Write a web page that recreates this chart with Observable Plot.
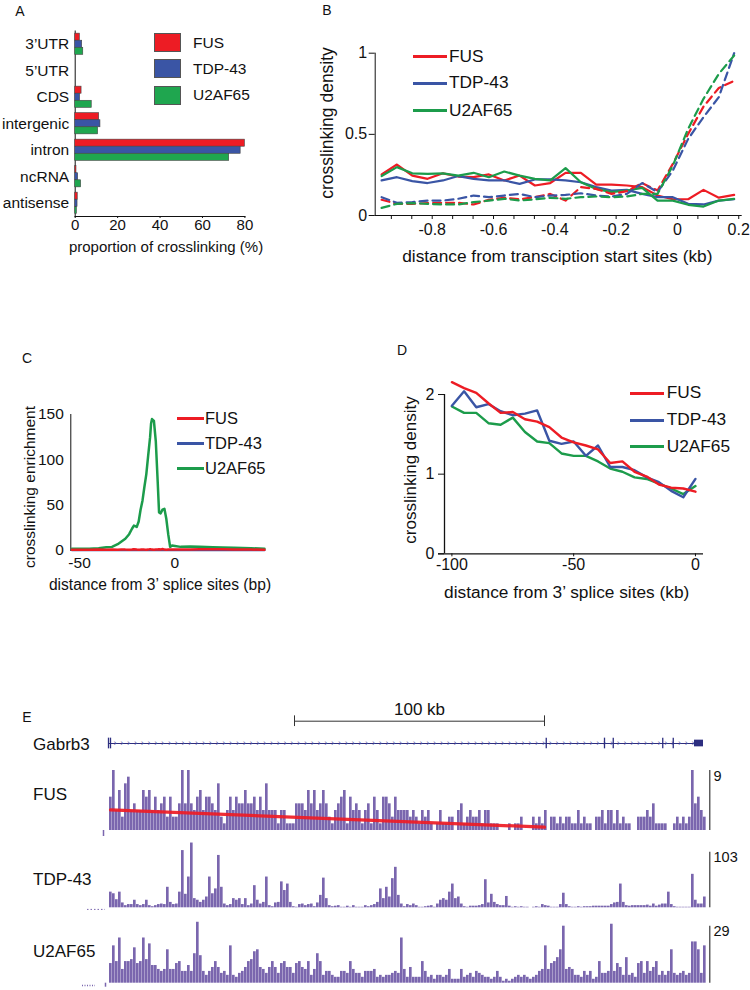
<!DOCTYPE html>
<html><head><meta charset="utf-8">
<script src="https://cdn.jsdelivr.net/npm/d3@7"></script>
<script src="https://cdn.jsdelivr.net/npm/@observablehq/plot@0.6"></script>
<style>
body{margin:0;background:#fff;}
#fig{position:relative;width:750px;height:990px;overflow:hidden;background:#fff;}
</style></head><body><div id="fig"></div>
<script>
// ================= DATA =================
const seriesNames = ["FUS", "TDP-43", "U2AF65"];
const seriesColors = ["#ed1c24", "#3a55a5", "#1c9c4b"];

// Panel A
const regionCats = ["3’UTR", "5’UTR", "CDS", "intergenic", "intron", "ncRNA", "antisense"];
const fusRegion  = [2.2, 0, 3.0, 11.3, 80.0, 0.6, 1.2];
const tdpRegion  = [3.3, 0, 2.3, 11.9, 78.0, 1.4, 1.1];
const u2afRegion = [3.8, 0, 7.8, 10.8, 72.6, 2.8, 0.8];
const regionTicks = [0, 20, 40, 60, 80];

// Panel B (solid / dashed profiles)
const tssDist = [-0.965,-0.915,-0.865,-0.815,-0.765,-0.715,-0.665,-0.615,-0.565,-0.515,-0.465,-0.415,-0.365,-0.315,-0.265,-0.215,-0.165,-0.115,-0.065,-0.015,0.035,0.085,0.135,0.185];
const fusTssSolid  = [0.253,0.314,0.246,0.226,0.26,0.24,0.236,0.253,0.216,0.246,0.185,0.2,0.263,0.263,0.19,0.19,0.185,0.175,0.123,0.1,0.1,0.158,0.11,0.127];
const tdpTssSolid  = [0.216,0.236,0.212,0.2,0.216,0.243,0.226,0.216,0.216,0.195,0.222,0.222,0.216,0.205,0.175,0.154,0.158,0.133,0.113,0.113,0.072,0.068,0.092,0.1];
const u2afTssSolid = [0.243,0.298,0.26,0.257,0.26,0.246,0.263,0.236,0.271,0.246,0.226,0.216,0.292,0.205,0.164,0.144,0.154,0.17,0.092,0.092,0.066,0.055,0.092,0.103];
const fusTssDash   = [0.097,0.072,0.072,0.076,0.078,0.078,0.068,0.097,0.109,0.1,0.113,0.133,0.092,0.175,0.164,0.133,0.15,0.2,0.154,0.318,0.503,0.671,0.786,0.83];
const tdpTssDash   = [0.113,0.078,0.082,0.092,0.092,0.103,0.123,0.113,0.123,0.133,0.113,0.123,0.127,0.137,0.123,0.117,0.133,0.2,0.144,0.277,0.472,0.606,0.729,1.0];
const u2afTssDash  = [0.047,0.072,0.076,0.072,0.068,0.068,0.082,0.092,0.103,0.092,0.1,0.109,0.103,0.113,0.117,0.113,0.117,0.133,0.133,0.308,0.534,0.719,0.873,0.986];
const tssTickLabels = [-0.8, -0.6, -0.4, -0.2, 0, 0.2];

// Panel C
const spliceBp = [-54,-50,-45,-40,-36,-33,-30,-28,-26,-24,-22.5,-21.5,-20,-19,-18,-17,-16,-15,-14,-13,-12.5,-12,-11,-10,-9,-8.3,-7.5,-6.5,-5.5,-4.5,-3.5,-2.5,-1.5,0,3,8,13,20,25,31,40,47];
const u2afEnrich = [1.9,2,2,2.5,3.5,4,7,10,13,18,24,27.5,26,32,45,55,70,84,105,125,140,145,143,120,75,42,41,45,46,35,18,4,5.5,5,4,4.3,4,3.5,3.2,3,2.5,2];
const fusEnrich  = [0.8,0.9,0.8,1,0.9,1,0.8,1.2,1,0.9,1,1.4,1,0.9,1,1.2,1,0.9,1,1.5,1,1.1,0.9,1,1,1.3,1,1.6,1,0.9,1,1,1.2,1,1.1,1.2,1.3,1.4,1.3,1.2,1,0.9];
const tdpEnrich  = [0.3,0.3,0.3,0.3,0.3,0.3,0.3,0.3,0.3,0.3,0.3,0.3,0.3,0.3,0.3,0.3,0.3,0.3,0.3,0.3,0.3,0.3,0.3,0.3,0.3,0.3,0.3,0.3,0.3,0.3,0.3,0.3,0.3,0.3,0.3,0.3,0.3,0.3,0.3,0.3,0.3,0.3];
const enrichTicks = [0, 50, 100, 150];
const bpTicks = [-50, 0];

// Panel D
const spliceKb = [-100,-95,-90,-85,-80,-75,-70,-65,-60,-55,-50,-45,-40,-35,-30,-25,-20,-15,-10,-5,0];
const fusDensity  = [2.155,2.08,2.02,1.89,1.77,1.78,1.69,1.66,1.59,1.46,1.40,1.36,1.31,1.14,1.16,1.03,0.97,0.87,0.83,0.82,0.78];
const tdpDensity  = [1.86,2.04,1.84,1.88,1.79,1.74,1.76,1.80,1.42,1.38,1.41,1.23,1.36,1.09,1.09,1.05,0.96,0.90,0.79,0.71,0.94];
const u2afDensity = [1.85,1.77,1.77,1.64,1.62,1.71,1.53,1.41,1.39,1.26,1.23,1.23,1.16,1.07,1.03,0.96,0.94,0.88,0.82,0.75,0.85];
const densityTicks = [0, 1, 2];
const kbTicks = [-100, -50, 0];

// Panel E (Gabrb3 locus, kb from gene start; 1.2 kb bins)
const geneName = "Gabrb3";
const geneLength = 238;
const geneExons = [0, 0.8, 175.1, 198.4, 201.9, 221.7, 225.9];
const lastExon = [{start: 234.4, end: 238}];
const scaleBar = [{start: 74.4, end: 174.4, label: "100 kb"}];
const trackMax = [9, 103, 29];
const fusFit = [{kb: 0.8, v: 3.1}, {kb: 174.4, v: 0.5}];
const fusTrack = [5,9,3,6,2,7,8,3,4,3, 3,6,5,6,3,5,3,4,5,2, 5,2,2,4,9,4,9,4,3,5, 6,3,5,5,4,3,7,2,1,3, 5,3,5,4,4,6,4,4,5,3, 5,3,7,3,3,3,1,3,3,1, 1,1,4,4,4,3,6,4,6,3, 4,6,4,2,1,3,4,5,6,1, 5,3,4,3,1,3,4,1,5,3, 1,5,5,4,2,5,3,3,3,3, 2,3,2,1,3,2,3,1,0,1, 3,1,1,2,2,0,3,4,1,2, 3,2,2,3,1,3,3,1,1,1, 0,0,0,1,0,1,1,2,0,0, 0,2,1,2,1,3,0,2,2,1, 2,1,2,2,1,1,3,1,2,1, 1,0,2,2,3,1,3,3,1,3, 1,2,1,1,0,0,2,2,2,3, 2,4,1,1,1,1,0,0,1,2, 1,2,1,2,9,4,5,3,2];
const tdpTrack = [29,26,15,29,9,4,6,6,14,6, 4,6,14,4,2,4,6,7,6,38, 10,6,7,29,106,25,57,120,17,14, 10,14,20,57,26,35,97,38,7,4, 6,17,14,17,6,17,4,7,41,14, 7,10,57,4,2,9,10,48,32,44, 10,2,1,6,7,4,6,7,2,9, 23,55,17,4,2,3,4,1,1,3, 1,4,1,1,1,4,2,4,6,10, 35,17,38,20,54,75,23,7,2,6, 4,7,4,1,1,2,3,4,1,7, 14,17,14,29,44,17,20,7,2,1, 3,3,3,4,6,52,9,25,10,6, 4,4,21,3,1,2,1,2,1,1, 0,1,2,1,6,4,3,1,1,1, 6,27,6,2,1,1,2,1,2,2, 2,3,3,3,3,3,3,6,9,10, 44,10,4,3,4,4,4,4,4,5, 3,7,3,5,7,7,29,6,2,1, 1,1,1,1,62,14,7,7,20];
const u2afTrack = [10,19,11,23,7,11,11,12,18,10, 11,23,12,20,9,9,7,6,7,17, 7,7,10,11,6,6,9,6,15,31, 14,6,4,6,8,11,8,5,6,4, 19,4,3,5,6,8,11,12,16,17, 8,7,5,8,11,8,5,10,11,8, 8,5,10,11,8,7,11,4,7,15, 11,4,6,6,4,3,3,6,6,5, 11,7,5,5,3,6,6,6,7,3, 4,3,4,4,5,6,5,23,7,3, 8,3,3,3,11,6,3,4,2,4, 4,3,4,7,2,2,2,7,3,4, 5,3,6,5,4,3,3,2,3,6, 3,1,2,1,2,3,4,3,4,3, 2,3,4,6,7,19,7,10,11,13, 17,29,7,8,7,4,4,3,6,4, 6,2,3,11,5,5,6,30,6,10, 8,4,13,4,5,3,10,11,5,11, 6,8,11,4,6,4,6,17,5,4, 5,6,4,5,21,21,17,5,19];

// ================= LAYOUT HELPERS =================
const FONT = '"Liberation Sans", Arial, Helvetica, sans-serif';
const fig = document.getElementById("fig");
function put(node, left, top) {
  node.style.position = "absolute";
  node.style.left = left + "px";
  node.style.top = top + "px";
  fig.appendChild(node);
  return node;
}
function txt(s, x, y, size, anchor = "middle", rotate = 0) {
  const d = document.createElement("div");
  d.textContent = s;
  d.style.cssText = `position:absolute;left:${x}px;top:${y}px;font-size:${size}px;font-family:${FONT};white-space:nowrap;line-height:1;color:#111;`;
  let tf = anchor === "middle" ? "translate(-50%,-50%)" : anchor === "end" ? "translate(-100%,-50%)" : "translate(0,-50%)";
  if (rotate) tf += ` rotate(${rotate}deg)`;
  d.style.transform = tf;
  fig.appendChild(d);
}
function swatchLine(x, y, w, color, h = 3) {
  const d = document.createElement("div");
  d.style.cssText = `position:absolute;left:${x}px;top:${y - h / 2}px;width:${w}px;height:${h}px;background:${color};`;
  fig.appendChild(d);
}
function swatchBox(x, y, w, h, color) {
  const d = document.createElement("div");
  d.style.cssText = `position:absolute;left:${x}px;top:${y}px;width:${w}px;height:${h}px;background:${color};box-sizing:border-box;border:1px solid #555;`;
  fig.appendChild(d);
}
const baseStyle = (size) => ({fontFamily: FONT, fontSize: size + "px", color: "#111", background: "transparent", overflow: "visible"});

// ================= PANEL A =================
{
  const BW = 26.5 * 0.8;
  const svg = Plot.plot({
    width: 270, height: 256, marginLeft: 74.7, marginRight: 270 - 244.4, marginTop: 30.5, marginBottom: 40,
    style: baseStyle(15),
    x: {domain: [0, 80], ticks: regionTicks, tickFormat: d => String(d), tickSize: 2, tickPadding: 1, line: true, label: null},
    y: {type: "band", domain: regionCats, paddingInner: 0.2, paddingOuter: 0.1, round: false, tickSize: 0, tickPadding: 6, line: true, label: null},
    marks: [
      Plot.barX(regionCats, {y: d => d, x: (d, i) => fusRegion[i], fill: seriesColors[0], stroke: "#444", strokeWidth: 0.6, insetTop: 0, insetBottom: BW * 2 / 3}),
      Plot.barX(regionCats, {y: d => d, x: (d, i) => tdpRegion[i], fill: seriesColors[1], stroke: "#444", strokeWidth: 0.6, insetTop: BW / 3, insetBottom: BW / 3}),
      Plot.barX(regionCats, {y: d => d, x: (d, i) => u2afRegion[i], fill: "#1fa64f", stroke: "#444", strokeWidth: 0.6, insetTop: BW * 2 / 3, insetBottom: 0})
    ]
  });
  // keep y-axis labels at reference size
  svg.querySelectorAll("[aria-label='y-axis tick label'] text, [aria-label='y-axis'] text").forEach(t => t.style.fontSize = "15.5px");
  put(svg, 0, 0);
  txt("A", 20, 11, 14);
  txt("proportion of crosslinking (%)", 166, 246, 15);
  const boxColors = [seriesColors[0], seriesColors[1], "#1fa64f"];
  const boxTops = [33.3, 59.3, 86];
  seriesNames.forEach((n, i) => {
    swatchBox(154, boxTops[i], 27, 18.5, boxColors[i]);
    txt(n, 193, boxTops[i] + 9.3, 15.5, "start");
  });
}

// ================= PANEL B =================
{
  const tssTicks = d3.range(-14, 4).map(k => k / 15);
  const fmt = d => {
    const v = tssTickLabels.find(t => Math.abs(t - d) < 1e-6);
    return v === undefined ? "" : String(v);
  };
  const solid = [fusTssSolid, tdpTssSolid, u2afTssSolid];
  const dash = [fusTssDash, tdpTssDash, u2afTssDash];
  const svg = Plot.plot({
    width: 450, height: 270, marginLeft: 74.7, marginRight: 9.3, marginTop: 52.7, marginBottom: 55,
    style: baseStyle(16),
    x: {domain: [-0.986, 0.208], ticks: tssTicks, tickFormat: fmt, tickSize: 4, tickPadding: 4, line: true, label: null},
    y: {domain: [0, 1], ticks: [0, 0.5, 1], tickFormat: d => String(d), tickSize: 6, tickPadding: 2, line: true, label: null},
    marks: [
      ...solid.map((arr, s) => Plot.line(tssDist, {x: d => d, y: (d, i) => arr[i], stroke: seriesColors[s], strokeWidth: 2.2})),
      ...dash.map((arr, s) => Plot.line(tssDist, {x: d => d, y: (d, i) => arr[i], stroke: seriesColors[s], strokeWidth: 2.2, strokeDasharray: "8,5"}))
    ]
  });
  put(svg, 300, 0);
  txt("B", 327, 10, 14);
  txt("crosslinking density", 328.3, 123.3, 17.5, "middle", -90);
  txt("distance from transciption start sites (kb)", 557.3, 256.7, 17.3);
  const ys = [56.7, 83.3, 110.7];
  seriesNames.forEach((n, i) => {
    swatchLine(413, ys[i], 34, seriesColors[i], 3);
    txt(n, 449, ys[i], 17.3, "start");
  });
}

// ================= PANEL C =================
{
  const series = [fusEnrich, tdpEnrich, u2afEnrich];
  const svg = Plot.plot({
    width: 290, height: 300, marginLeft: 70.3, marginRight: 20.3, marginTop: 114, marginBottom: 50,
    style: baseStyle(15.5),
    x: {domain: [-54.6, 50], ticks: bpTicks, tickFormat: d => String(d), tickSize: 0, tickPadding: 6, label: null},
    y: {domain: [0, 150], ticks: enrichTicks, tickFormat: d => String(d), tickSize: 0, tickPadding: 7, line: true, label: null},
    marks: [
      Plot.line(spliceBp, {x: d => d, y: (d, i) => series[1][i], stroke: seriesColors[1], strokeWidth: 2.2}),
      Plot.line(spliceBp, {x: d => d, y: (d, i) => series[2][i], stroke: seriesColors[2], strokeWidth: 2.5}),
      Plot.line(spliceBp, {x: d => d, y: (d, i) => series[0][i], stroke: seriesColors[0], strokeWidth: 2.5})
    ]
  });
  put(svg, 0, 300);
  txt("C", 27, 357.5, 14);
  txt("crosslinking enrichment", 30, 487.3, 15.5, "middle", -90);
  txt("distance from 3’ splice sites (bp)", 160, 585, 15.6);
  const ys = [418.3, 443.3, 468.3];
  seriesNames.forEach((n, i) => {
    swatchLine(176.7, ys[i], 27, seriesColors[i], 3);
    txt(n, 205, ys[i], 16.5, "start");
  });
}

// ================= PANEL D =================
{
  const series = [fusDensity, tdpDensity, u2afDensity];
  const svg = Plot.plot({
    width: 380, height: 320, marginLeft: 74, marginRight: 47, marginTop: 88.1, marginBottom: 56.7,
    style: baseStyle(16),
    x: {domain: [-103.04, 3.3], ticks: kbTicks, tickFormat: d => String(d), tickSize: 3, tickPadding: 2, label: null},
    y: {domain: [0, 2.2], ticks: densityTicks, tickFormat: d => String(d), tickSize: 6, tickPadding: 4, label: null},
    marks: [
      Plot.ruleY([0], {x1: -105.5, x2: 3.3, stroke: "#111", strokeWidth: 1.3}),
      Plot.ruleX([-103.04], {y1: 0, y2: 2, stroke: "#111", strokeWidth: 1.3}),
      Plot.line(spliceKb, {x: d => d, y: (d, i) => series[2][i], stroke: seriesColors[2], strokeWidth: 2.4}),
      Plot.line(spliceKb, {x: d => d, y: (d, i) => series[1][i], stroke: seriesColors[1], strokeWidth: 2.4}),
      Plot.line(spliceKb, {x: d => d, y: (d, i) => series[0][i], stroke: seriesColors[0], strokeWidth: 2.4})
    ]
  });
  put(svg, 370, 290);
  txt("D", 402, 350, 14);
  txt("crosslinking density", 410, 470, 17, "middle", -90);
  txt("distance from 3’ splice sites (kb)", 566.7, 593.3, 17.3);
  const ys = [393.3, 420, 446.7];
  seriesNames.forEach((n, i) => {
    swatchLine(630, ys[i], 34, seriesColors[i], 3);
    txt(n, 666.7, ys[i], 17.3, "start");
  });
}

// ================= PANEL E =================
{
  const NAVY = "#2d2e80";
  const PURPLE = "#7a66ae";
  const xE = {domain: [0, 240], axis: null};
  const chevrons = d3.range(2.6, 234, 2.72);
  const gene = Plot.plot({
    width: 750, height: 60, marginLeft: 108, marginRight: 42, marginTop: 20.7, marginBottom: 17,
    style: baseStyle(17),
    x: xE, y: {domain: [0, 1], axis: null},
    marks: [
      Plot.ruleY([0], {x1: 0, x2: geneLength, stroke: NAVY, strokeWidth: 1}),
      Plot.text(chevrons, {x: d => d, y: 0, text: () => "›", fill: "#5a5aa6", fontSize: 9, dy: -0.5}),
      Plot.ruleX(geneExons, {x: d => d, y1: -0.24, y2: 0.24, stroke: NAVY, strokeWidth: 1.3}),
      Plot.rect(lastExon, {x1: "start", x2: "end", y1: -0.15, y2: 0.15, fill: NAVY}),
      Plot.ruleY(scaleBar, {x1: "start", x2: "end", y: 1, stroke: "#333", strokeWidth: 1}),
      Plot.ruleX(scaleBar, {x: "start", y1: 0.76, y2: 1.24, stroke: "#333", strokeWidth: 1}),
      Plot.ruleX(scaleBar, {x: "end", y1: 0.76, y2: 1.24, stroke: "#333", strokeWidth: 1}),
      Plot.text(scaleBar, {x: d => (d.start + d.end) / 2, y: 1, text: "label", dy: -12, fontSize: 17, fill: "#111"})
    ]
  });
  put(gene, 0, 700);
  txt("E", 27, 717, 14);
  txt(geneName, 33, 743.5, 17, "start");

  const binStart = d3.range(fusTrack.length).map(k => 0.4 + 1.2 * k);
  const tracks = [
    {name: "FUS", vals: fusTrack, max: trackMax[0], top: 760, h: 80, mt: 10, mb: 10, labelY: 794},
    {name: "TDP-43", vals: tdpTrack, max: trackMax[1], top: 840, h: 80, mt: 11.7, mb: 12.7, labelY: 879},
    {name: "U2AF65", vals: u2afTrack, max: trackMax[2], top: 915, h: 75, mt: 10.7, mb: 7.3, labelY: 951}
  ];
  tracks.forEach((t, ti) => {
    const pxPerUnit = (t.h - t.mt - t.mb) / t.max;
    const marks = [
      Plot.rect(t.vals, {x1: (d, i) => binStart[i], x2: (d, i) => binStart[i] + 1.2, y1: 0, y2: d => d, fill: PURPLE, insetRight: 0.35}),
      Plot.ruleX([240.5], {y1: 0, y2: t.max, stroke: "#555", strokeWidth: 1.4}),
      Plot.text([t.max], {x: 242, y: d => d, text: d => String(d), textAnchor: "start", lineAnchor: "top", fontSize: 14.5, fill: "#111", dy: 0})
    ];
    if (ti === 0) {
      marks.push(Plot.line(fusFit, {x: "kb", y: "v", stroke: "#ee1c25", strokeWidth: 3.2, strokeOpacity: 0.92}));
      marks.push(Plot.ruleX([-2], {y1: 0, y2: -6 / pxPerUnit, stroke: PURPLE, strokeWidth: 1.5}));
    } else if (ti === 1) {
      marks.push(Plot.ruleY([-1.6 / pxPerUnit], {x1: -8.4, x2: -1.2, stroke: PURPLE, strokeWidth: 1, strokeDasharray: "1.5,2"}));
    } else {
      marks.push(Plot.ruleY([-2.2 / pxPerUnit], {x1: -10.4, x2: -5.2, stroke: PURPLE, strokeWidth: 1.5, strokeDasharray: "1,1.5"}));
      marks.push(Plot.ruleX([-1.2], {y1: 0, y2: -4 / pxPerUnit, stroke: PURPLE, strokeWidth: 1.5}));
    }
    const svg = Plot.plot({
      width: 750, height: t.h, marginLeft: 108, marginRight: 42, marginTop: t.mt, marginBottom: t.mb,
      style: baseStyle(14.5),
      x: xE, y: {domain: [0, t.max], axis: null},
      marks
    });
    put(svg, 0, t.top);
    txt(t.name, 33, t.labelY, 17, "start");
  });
}
</script></body></html>
